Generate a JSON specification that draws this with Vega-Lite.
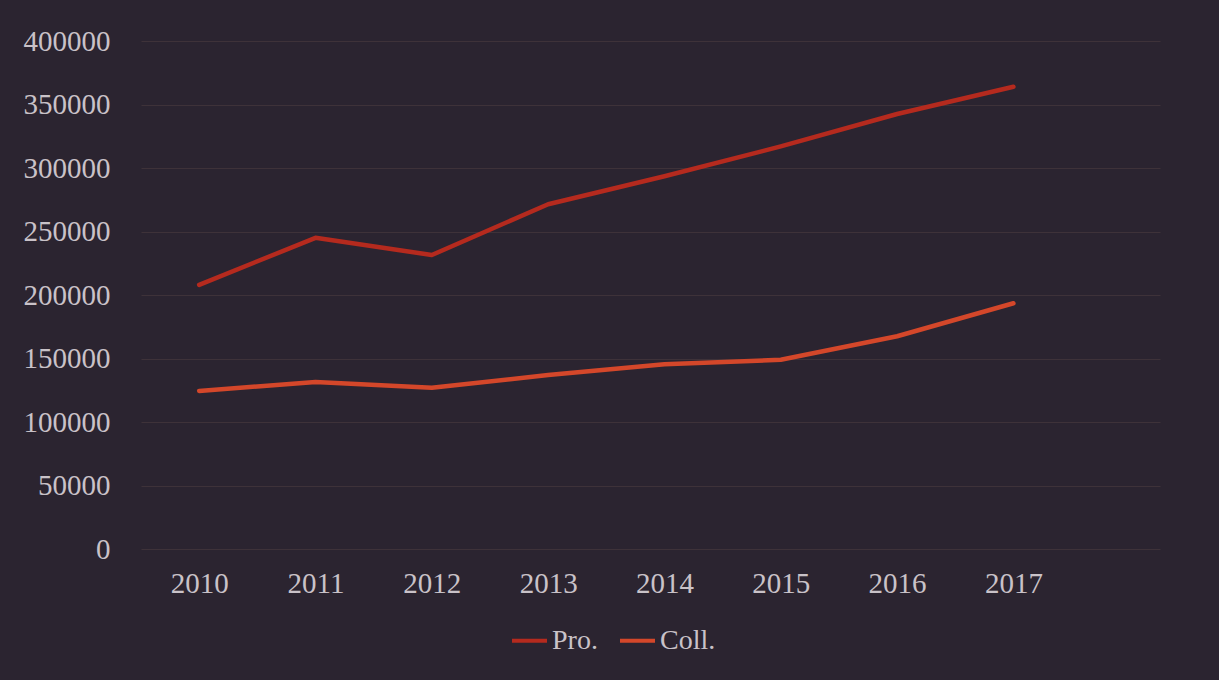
{
  "$schema": "https://vega.github.io/schema/vega-lite/v6.json",
  "width": 1019,
  "height": 508,
  "autosize": {"type": "none"},
  "padding": {"left": 141, "top": 41, "right": 59, "bottom": 131},
  "background": "#2b2430",
  "config": {
    "view": {"stroke": null},
    "font": "Liberation Serif",
    "axis": {"labelFont": "Liberation Serif", "labelColor": "#c9c2c8", "labelFontSize": 29},
    "legend": {"labelFont": "Liberation Serif", "labelColor": "#c9c2c8", "labelFontSize": 28}
  },
  "data": {
    "values": [
      {"year": 2010, "series": "Pro.", "value": 208000},
      {"year": 2011, "series": "Pro.", "value": 245000},
      {"year": 2012, "series": "Pro.", "value": 231500},
      {"year": 2013, "series": "Pro.", "value": 271500},
      {"year": 2014, "series": "Pro.", "value": 293500},
      {"year": 2015, "series": "Pro.", "value": 317000},
      {"year": 2016, "series": "Pro.", "value": 342500},
      {"year": 2017, "series": "Pro.", "value": 364000},
      {"year": 2010, "series": "Coll.", "value": 124500},
      {"year": 2011, "series": "Coll.", "value": 131500},
      {"year": 2012, "series": "Coll.", "value": 127000},
      {"year": 2013, "series": "Coll.", "value": 137000},
      {"year": 2014, "series": "Coll.", "value": 145500},
      {"year": 2015, "series": "Coll.", "value": 149000},
      {"year": 2016, "series": "Coll.", "value": 167500},
      {"year": 2017, "series": "Coll.", "value": 193500}
    ]
  },
  "mark": {"type": "line", "strokeWidth": 4.5, "strokeCap": "round", "strokeJoin": "round"},
  "encoding": {
    "x": {
      "field": "year",
      "type": "quantitative",
      "scale": {"domain": [2009.5, 2018.26], "nice": false, "zero": false},
      "axis": {
        "title": null,
        "values": [2010, 2011, 2012, 2013, 2014, 2015, 2016, 2017],
        "format": "d",
        "grid": false,
        "domain": false,
        "ticks": false,
        "labelPadding": 20
      }
    },
    "y": {
      "field": "value",
      "type": "quantitative",
      "scale": {"domain": [0, 400000], "nice": false},
      "axis": {
        "title": null,
        "values": [0, 50000, 100000, 150000, 200000, 250000, 300000, 350000, 400000],
        "format": "d",
        "grid": true,
        "gridColor": "#3e3239",
        "gridWidth": 1,
        "domain": false,
        "ticks": false,
        "labelPadding": 31
      }
    },
    "color": {
      "field": "series",
      "type": "nominal",
      "sort": ["Pro.", "Coll."],
      "scale": {"domain": ["Pro.", "Coll."], "range": ["#b52a1e", "#d4472a"]},
      "legend": {
        "title": null,
        "orient": "none",
        "direction": "horizontal",
        "legendX": 369,
        "legendY": 580,
        "symbolType": "stroke",
        "symbolSize": 1225,
        "symbolStrokeWidth": 4,
        "labelOffset": 3,
        "columnPadding": 14
      }
    }
  }
}
